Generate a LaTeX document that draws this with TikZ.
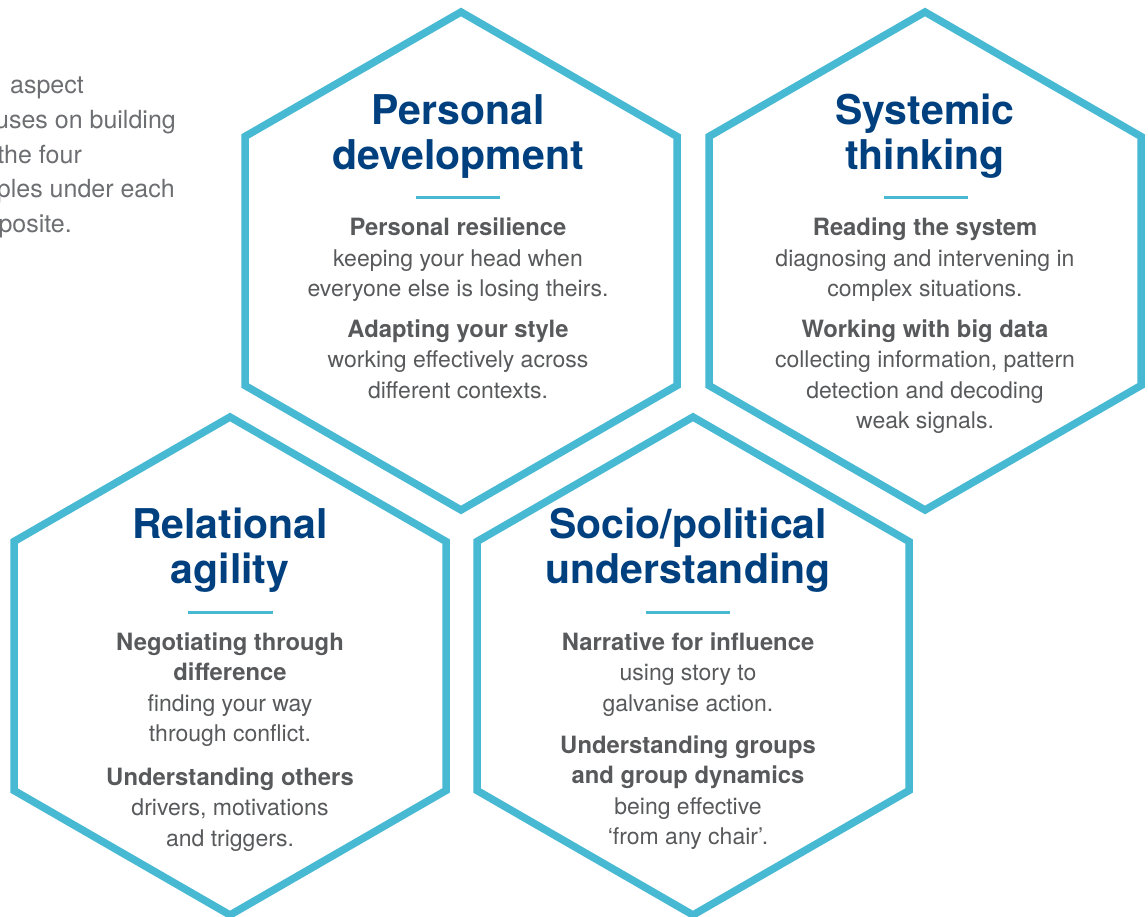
\documentclass[tikz,border=0pt]{standalone}
\usepackage{fontspec}
\setmainfont{TeX Gyre Heros}
\definecolor{hexblue}{HTML}{47B9D3}
\definecolor{titleblue}{HTML}{00407F}
\definecolor{bodygray}{HTML}{58595B}
\definecolor{introgray}{HTML}{6D6E71}
\newcommand{\hd}[1]{{\fontsize{23.8}{30.5}\selectfont\bfseries #1}}
\begin{document}
\begin{tikzpicture}[x=1pt,y=-1pt,
  hexline/.style={draw=hexblue, line width=7.5pt, line join=miter},
  divider/.style={draw=hexblue, line width=3pt},
  % multi-line nodes: the base anchor sits on the last line
  title/.style={anchor=base, inner sep=0pt, align=center, text=titleblue,
    font=\fontsize{41}{45}\selectfont\bfseries},
  entry/.style={anchor=base, inner sep=0pt, align=center, text=bodygray,
    font=\fontsize{23}{30.5}\selectfont},
  intro/.style={anchor=base east, inner sep=0pt, text=introgray,
    font=\fontsize{25}{35}\selectfont}]
\useasboundingbox (0,0) rectangle (1148,917);
\clip (0,0) rectangle (1148,917);

% four hexagonal frames
\foreach \n/\cx/\cy in {pd/461/261, st/925/261, ra/230/666, sp/693/666} {
  \coordinate (\n) at (\cx,\cy);
  \draw[hexline, shift={(\n)}] (0,-249) -- (216,-124.5) -- (216,124.5)
    -- (0,249) -- (-216,124.5) -- (-216,-124.5) -- cycle;
}

% introductory paragraph, running off the left edge
\node[intro] (i1) at (84,94)  {aspect};
\node[intro] (i2) at (176,129) {uses on building};
\node[intro] (i3) at (82,164) {the four};
\node[intro] (i4) at (175,198) {ples under each};
\node[intro] (i5) at (72,233) {posite.};

% short rules under the titles
\foreach \n/\a/\b/\y in {pd/416/500/198, st/884/968/198, ra/188/273/612, sp/646/730/612} {
  \coordinate (\n L) at (\a,\y);
  \coordinate (\n R) at (\b,\y);
  \draw[divider] (\n L) -- (\n R);
}

% Personal development
\node[title] (pdT) at (458,170) {Personal\\development};
\node[entry] (pdA) at (458,297) {\hd{Personal resilience}\\keeping your head when\\everyone else is losing theirs.};
\node[entry] (pdB) at (458,398) {\hd{Adapting your style}\\working effectively across\\different contexts.};

% Systemic thinking
\node[title] (stT) at (925,170) {Systemic\\thinking};
\node[entry] (stA) at (925,297) {\hd{Reading the system}\\diagnosing and intervening in\\complex situations.};
\node[entry] (stB) at (925,428.5) {\hd{Working with big data}\\collecting information, pattern\\detection and decoding\\weak signals.};

% Relational agility
\node[title] (raT) at (230,583) {Relational\\agility};
\node[entry] (raA) at (230,741.5) {\hd{Negotiating through}\\\hd{difference}\\finding your way\\through conflict.};
\node[entry] (raB) at (230,846) {\hd{Understanding others}\\drivers, motivations\\and triggers.};

% Socio/political understanding
\node[title] (spT) at (688,583) {Socio/political\\understanding};
\node[entry] (spA) at (688,711) {\hd{Narrative for influence}\\using story to\\galvanise action.};
\node[entry] (spB) at (688,844.5) {\hd{Understanding groups}\\\hd{and group dynamics}\\being effective\\‘from any chair’.};
\end{tikzpicture}
\end{document}
